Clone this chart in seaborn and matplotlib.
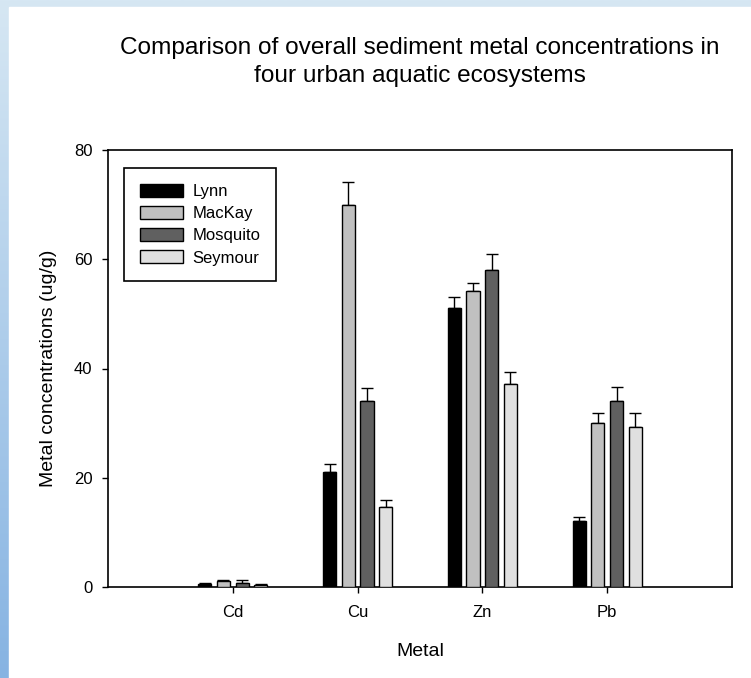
import numpy as np
import pandas as pd
import matplotlib.pyplot as plt
import seaborn as sns
from matplotlib.patches import Rectangle

# values
metals = ['Cd', 'Cu', 'Zn', 'Pb']
sites = ['Lynn', 'MacKay', 'Mosquito', 'Seymour']
lynn = [0.5, 21.0, 51.1, 12.1]
mackay = [1.1, 70.0, 54.2, 30.0]
mosquito = [0.8, 34.1, 58.0, 34.1]
seymour = [0.4, 14.6, 37.2, 29.2]
lynn_err = [0.15, 1.5, 2.0, 0.8]
mackay_err = [0.15, 4.2, 1.4, 1.9]
mosquito_err = [0.45, 2.3, 3.0, 2.5]
seymour_err = [0.1, 1.3, 2.2, 2.7]
colors = ['#000000', '#c0c0c0', '#606060', '#e0e0e0']

values = [lynn, mackay, mosquito, seymour]
errors = [lynn_err, mackay_err, mosquito_err, seymour_err]
rows = []
for s, vals, errs in zip(sites, values, errors):
    for m, v, e in zip(metals, vals, errs):
        rows.append({'Metal': m, 'Site': s, 'Value': v, 'Err': e})
df = pd.DataFrame(rows)

sns.set_style('white')
plt.rcParams['font.family'] = ['Liberation Sans', 'DejaVu Sans']
plt.rcParams['text.color'] = 'black'
plt.rcParams['axes.labelcolor'] = 'black'
plt.rcParams['xtick.color'] = 'black'
plt.rcParams['ytick.color'] = 'black'

fig = plt.figure(figsize=(7.51, 6.78), dpi=100)

# light blue frame at the left and top edges
bg = fig.add_axes([0, 0, 1, 1], zorder=-10)
grad = np.linspace(0, 1, 256).reshape(-1, 1)
bg.imshow(grad, aspect='auto', cmap=sns.blend_palette(['#d6e7f3', '#86b3e2'], as_cmap=True),
          extent=[0, 1, 0, 1], origin='upper')
bg.add_patch(Rectangle((9 / 751, 0), 1, 1 - 7 / 678, color='white', transform=bg.transAxes))
bg.set_axis_off()

ax = fig.add_axes([108 / 751, 1 - 587 / 678, 624 / 751, 437 / 678])
sns.barplot(data=df, x='Metal', y='Value', hue='Site', order=metals, hue_order=sites,
            palette=colors, width=0.6, gap=0.3, errorbar=None,
            edgecolor='black', linewidth=1, ax=ax, zorder=3)

# one-sided error bars placed at the bar centres
for cont, errs in zip(ax.containers, errors):
    xs = [p.get_x() + p.get_width() / 2 for p in cont.patches]
    hs = [p.get_height() for p in cont.patches]
    ax.errorbar(xs, hs, yerr=[np.zeros(len(errs)), errs], fmt='none',
                ecolor='black', elinewidth=1, capsize=4.5, capthick=1, zorder=2)

ax.set_xlim(-1, 4)
ax.set_ylim(0, 80)
ax.set_yticks([0, 20, 40, 60, 80])
for sp in ax.spines.values():
    sp.set_visible(True)
    sp.set_color('black')
    sp.set_linewidth(1.2)
ax.tick_params(axis='both', direction='out', length=4.3, width=1, color='black',
               labelsize=12, left=True, bottom=True)
ax.tick_params(axis='x', pad=8.5)
ax.tick_params(axis='y', pad=7)
ax.set_xlabel('Metal', fontsize=14, labelpad=17)
ax.set_ylabel('Metal concentrations (ug/g)', fontsize=14, labelpad=12)

leg = ax.legend(loc='upper left', bbox_to_anchor=(16 / 624, 1 - 18 / 437), borderaxespad=0,
                fancybox=False, edgecolor='black', framealpha=1, fontsize=12,
                handlelength=2.6, handleheight=0.8, labelspacing=0.42, borderpad=0.95,
                handletextpad=0.55)
leg.get_frame().set_linewidth(1.2)

fig.text(420 / 751, 1 - 62 / 678,
         'Comparison of overall sediment metal concentrations in\nfour urban aquatic ecosystems',
         ha='center', va='center', fontsize=17.6, linespacing=1.32)

fig.savefig('out.png', dpi=100)
